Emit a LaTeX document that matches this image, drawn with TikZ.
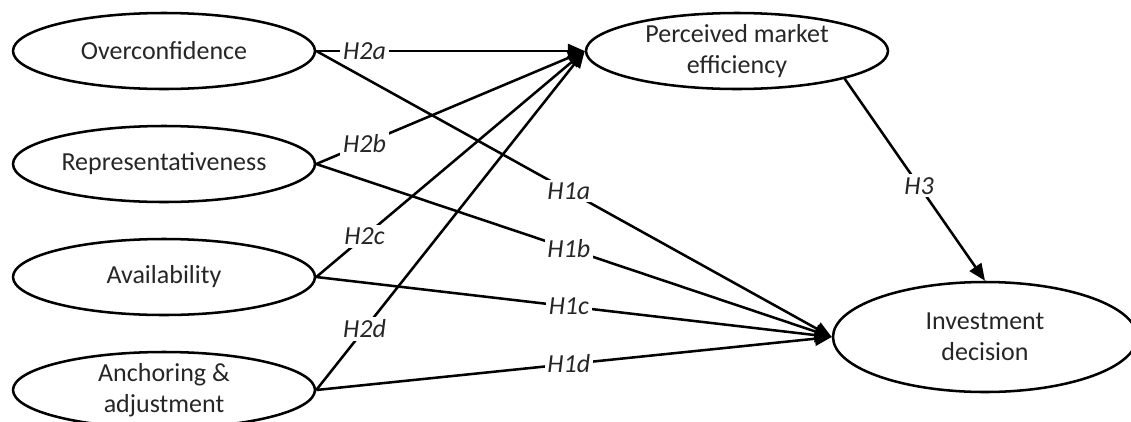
\documentclass[tikz,border=0pt]{standalone}
\usepackage{fontspec}
\setmainfont{Carlito}
\usetikzlibrary{shapes.geometric,arrows.meta,positioning}

\begin{document}
\begin{tikzpicture}[node distance=2.825cm,on grid,line width=1.8pt,
	every node/.style={text=black!85,font=\fontsize{18.5}{22}\selectfont},
	construct/.style={ellipse,draw,line width=1.8pt,minimum width=7.55cm,minimum height=1.9cm,inner sep=0pt,align=center},
	hyp/.style={fill=white,inner sep=2pt,font=\fontsize{18.5}{22}\selectfont\itshape},
	>={Triangle[length=12pt,width=10pt]}]
	\useasboundingbox (0,0) rectangle (28.275,-10.525);
	\clip (0,0) rectangle (28.275,-10.525);
	\node[construct] (oc) at (4.1,-1.275) {Overconfidence};
	\node[construct] (rep) [below=of oc] {Representativeness};
	\node[construct] (avl) [below=of rep] {Availability};
	\node[construct] (anc) [below=of avl] {Anchoring \&\\adjustment};
	\node[construct] (pme) [right=14.325cm of oc] {Perceived market\\efficiency};
	\node[construct,minimum width=7.6cm,minimum height=2.75cm] (inv) [below right=7.15cm and 6.2cm of pme] {Investment\\decision};
\path[->]
	(oc.east) edge node[hyp,pos=.18] {H2a} (pme.west)
		 edge node[hyp,pos=.49] {H1a} (inv.west)
	(rep.east) edge node[hyp,pos=.18] {H2b} (pme.west)
		 edge node[hyp,pos=.49] {H1b} (inv.west)
	(avl.east) edge node[hyp,pos=.18] {H2c} (pme.west)
		 edge node[hyp,pos=.49] {H1c} (inv.west)
	(anc.east) edge node[hyp,pos=.18] {H2d} (pme.west)
		 edge node[hyp,pos=.49] {H1d} (inv.west)
	(pme.south east) edge node[hyp,pos=.53] {H3} (inv.north);
\end{tikzpicture}
\end{document}
